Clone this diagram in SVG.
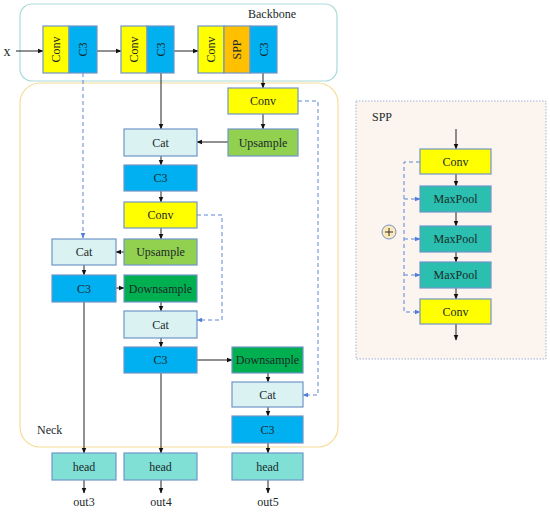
<svg xmlns="http://www.w3.org/2000/svg" width="550" height="513" viewBox="0 0 550 513" font-family="'Liberation Serif', 'Times New Roman', 'DejaVu Serif', serif">
<style>
text{font-family:'Liberation Serif','Times New Roman','DejaVu Serif',serif;font-size:12px;fill:#1a2a2a;text-anchor:middle;dominant-baseline:central}
.b{stroke:#7195c8;stroke-width:1.2}
.conv{fill:#ffff00}.c3{fill:#00b0f0}.spp{fill:#ffc000}.cat{fill:#daf2f2}.up{fill:#92d050}.down{fill:#00b050}.head{fill:#80e0d6}.mp{fill:#2bbfaf}
.ln{stroke:#222;stroke-width:1;fill:none}
.ds{stroke:#5b86d6;stroke-width:1;stroke-dasharray:4,3;fill:none}
.lbl{text-anchor:start;dominant-baseline:auto;font-size:12px}
</style>
<defs>
<marker id="a" viewBox="0 0 10 10" refX="9" refY="5" markerWidth="6" markerHeight="6" orient="auto"><path d="M0,1 L10,5 L0,9 z" fill="#111"/></marker>
<marker id="ab" viewBox="0 0 10 10" refX="9" refY="5" markerWidth="6" markerHeight="6" orient="auto"><path d="M0,1 L10,5 L0,9 z" fill="#4f7fd9"/></marker>
</defs>
<rect width="550" height="513" fill="#fff"/>
<g id="backbone-frame"><rect x="20" y="4" width="317" height="77" rx="12" fill="none" stroke="#a9dbd9" stroke-width="1.2"/><text class="lbl" x="248" y="18">Backbone</text></g>
<g id="neck-frame"><rect x="20" y="83" width="318" height="364" rx="20" fill="none" stroke="#f6dc95" stroke-width="1.2"/><text class="lbl" x="37" y="434">Neck</text></g>
<g id="spp-frame"><rect x="356" y="101" width="190" height="258" fill="#fcf4ef" stroke="#a4b6d8" stroke-width="1" stroke-dasharray="1.5,1.5"/><text class="lbl" x="372" y="121">SPP</text></g>
<g id="connectors">
<line class="ln" x1="16" y1="51" x2="43" y2="51" marker-end="url(#a)"/>
<line class="ln" x1="97" y1="51" x2="121" y2="51" marker-end="url(#a)"/>
<line class="ln" x1="174" y1="51" x2="198" y2="51" marker-end="url(#a)"/>
<line class="ln" x1="263" y1="73" x2="263" y2="88" marker-end="url(#a)"/>
<line class="ln" x1="161" y1="73" x2="161" y2="129" marker-end="url(#a)"/>
<polyline class="ds" points="83,73 83,238" marker-end="url(#ab)"/>
<line class="ln" x1="263" y1="114" x2="263" y2="129" marker-end="url(#a)"/>
<line class="ln" x1="228" y1="142" x2="197" y2="142" marker-end="url(#a)"/>
<line class="ln" x1="161" y1="156" x2="161" y2="165" marker-end="url(#a)"/>
<line class="ln" x1="161" y1="191" x2="161" y2="202" marker-end="url(#a)"/>
<line class="ln" x1="161" y1="228" x2="161" y2="239" marker-end="url(#a)"/>
<line class="ln" x1="124" y1="252" x2="116" y2="252" marker-end="url(#a)"/>
<line class="ln" x1="84" y1="265" x2="84" y2="275" marker-end="url(#a)"/>
<line class="ln" x1="116" y1="288" x2="124" y2="288" marker-end="url(#a)"/>
<line class="ln" x1="161" y1="302" x2="161" y2="311" marker-end="url(#a)"/>
<line class="ln" x1="161" y1="338" x2="161" y2="347" marker-end="url(#a)"/>
<line class="ln" x1="197" y1="360" x2="232" y2="360" marker-end="url(#a)"/>
<line class="ln" x1="268" y1="373" x2="268" y2="382" marker-end="url(#a)"/>
<line class="ln" x1="268" y1="407" x2="268" y2="416" marker-end="url(#a)"/>
<polyline class="ds" points="298,101 318,101 318,395 303,395" marker-end="url(#ab)"/>
<polyline class="ds" points="197,215 222,215 222,320 197,320" marker-end="url(#ab)"/>
<line class="ln" x1="84" y1="302" x2="84" y2="453" marker-end="url(#a)"/>
<line class="ln" x1="161" y1="373" x2="161" y2="453" marker-end="url(#a)"/>
<line class="ln" x1="268" y1="443" x2="268" y2="453" marker-end="url(#a)"/>
<line class="ln" x1="84" y1="480" x2="84" y2="493" marker-end="url(#a)"/>
<line class="ln" x1="161" y1="480" x2="161" y2="493" marker-end="url(#a)"/>
<line class="ln" x1="268" y1="480" x2="268" y2="493" marker-end="url(#a)"/>
<line class="ln" x1="456" y1="129" x2="456" y2="149" marker-end="url(#a)"/>
<line class="ln" x1="456" y1="174" x2="456" y2="186" marker-end="url(#a)"/>
<line class="ln" x1="456" y1="212" x2="456" y2="226" marker-end="url(#a)"/>
<line class="ln" x1="456" y1="252" x2="456" y2="262" marker-end="url(#a)"/>
<line class="ln" x1="456" y1="288" x2="456" y2="299" marker-end="url(#a)"/>
<line class="ln" x1="456" y1="324" x2="456" y2="340" marker-end="url(#a)"/>
<polyline class="ds" points="420,162 404,162 404,312 420,312" marker-end="url(#ab)"/>
<line class="ds" x1="404" y1="199" x2="420" y2="199" marker-end="url(#ab)"/>
<line class="ds" x1="404" y1="239" x2="420" y2="239" marker-end="url(#ab)"/>
<line class="ds" x1="404" y1="275" x2="420" y2="275" marker-end="url(#ab)"/>
</g>
<text x="7" y="51" style="font-size:14px">x</text>
<g id="bb-conv1"><rect class="b conv" x="43" y="26" width="26" height="47"/><text transform="translate(56,49.5) rotate(-90)">Conv</text></g>
<g id="bb-c3-1"><rect class="b c3" x="69" y="26" width="28" height="47"/><text transform="translate(83,49.5) rotate(-90)">C3</text></g>
<g id="bb-conv2"><rect class="b conv" x="121" y="26" width="26" height="47"/><text transform="translate(134,49.5) rotate(-90)">Conv</text></g>
<g id="bb-c3-2"><rect class="b c3" x="147" y="26" width="27" height="47"/><text transform="translate(160.5,49.5) rotate(-90)">C3</text></g>
<g id="bb-conv3"><rect class="b conv" x="198" y="26" width="26" height="47"/><text transform="translate(211,49.5) rotate(-90)">Conv</text></g>
<g id="bb-spp"><rect class="b spp" x="224" y="26" width="26" height="47"/><text transform="translate(237,49.5) rotate(-90)">SPP</text></g>
<g id="bb-c3-3"><rect class="b c3" x="250" y="26" width="27" height="47"/><text transform="translate(263.5,49.5) rotate(-90)">C3</text></g>
<g id="n-conv1"><rect class="b conv" x="228" y="88" width="70" height="26"/><text x="263" y="101">Conv</text></g>
<g id="n-up1"><rect class="b up" x="228" y="129" width="70" height="27"/><text x="263" y="142.5">Upsample</text></g>
<g id="n-cat1"><rect class="b cat" x="124" y="129" width="73" height="27"/><text x="160.5" y="142.5">Cat</text></g>
<g id="n-c3-1"><rect class="b c3" x="124" y="165" width="73" height="26"/><text x="160.5" y="178">C3</text></g>
<g id="n-conv2"><rect class="b conv" x="124" y="202" width="73" height="26"/><text x="160.5" y="215">Conv</text></g>
<g id="n-up2"><rect class="b up" x="124" y="239" width="73" height="26"/><text x="160.5" y="252">Upsample</text></g>
<g id="n-cat2"><rect class="b cat" x="52" y="239" width="64" height="26"/><text x="84" y="252">Cat</text></g>
<g id="n-c3-2"><rect class="b c3" x="52" y="275" width="64" height="27"/><text x="84" y="288.5">C3</text></g>
<g id="n-down1"><rect class="b down" x="124" y="275" width="73" height="27"/><text x="160.5" y="288.5">Downsample</text></g>
<g id="n-cat3"><rect class="b cat" x="124" y="311" width="73" height="27"/><text x="160.5" y="324.5">Cat</text></g>
<g id="n-c3-3"><rect class="b c3" x="124" y="347" width="73" height="26"/><text x="160.5" y="360">C3</text></g>
<g id="n-down2"><rect class="b down" x="232" y="347" width="71" height="26"/><text x="267.5" y="360">Downsample</text></g>
<g id="n-cat4"><rect class="b cat" x="232" y="382" width="71" height="25"/><text x="267.5" y="394.5">Cat</text></g>
<g id="n-c3-4"><rect class="b c3" x="232" y="416" width="71" height="27"/><text x="267.5" y="429.5">C3</text></g>
<g id="head3"><rect class="b head" x="52" y="453" width="64" height="27"/><text x="84" y="466.5">head</text><text x="84" y="502">out3</text></g>
<g id="head4"><rect class="b head" x="124" y="453" width="73" height="27"/><text x="160.5" y="466.5">head</text><text x="161" y="502">out4</text></g>
<g id="head5"><rect class="b head" x="232" y="453" width="71" height="27"/><text x="267.5" y="466.5">head</text><text x="268" y="502">out5</text></g>
<g id="spp-conv1"><rect class="b conv" x="420" y="149" width="71" height="25"/><text x="455.5" y="161.5">Conv</text></g>
<g id="spp-mp1"><rect class="b mp" x="420" y="186" width="71" height="26"/><text x="455.5" y="199">MaxPool</text></g>
<g id="spp-mp2"><rect class="b mp" x="420" y="226" width="71" height="26"/><text x="455.5" y="239">MaxPool</text></g>
<g id="spp-mp3"><rect class="b mp" x="420" y="262" width="71" height="26"/><text x="455.5" y="275">MaxPool</text></g>
<g id="spp-conv2"><rect class="b conv" x="420" y="299" width="71" height="25"/><text x="455.5" y="311.5">Conv</text></g>
<g id="spp-plus"><circle cx="389" cy="232" r="7" fill="#fde9b8" stroke="#7195c8" stroke-width="1"/><path d="M385,232 H393 M389,228 V236" stroke="#333" stroke-width="1"/></g>
</svg>
